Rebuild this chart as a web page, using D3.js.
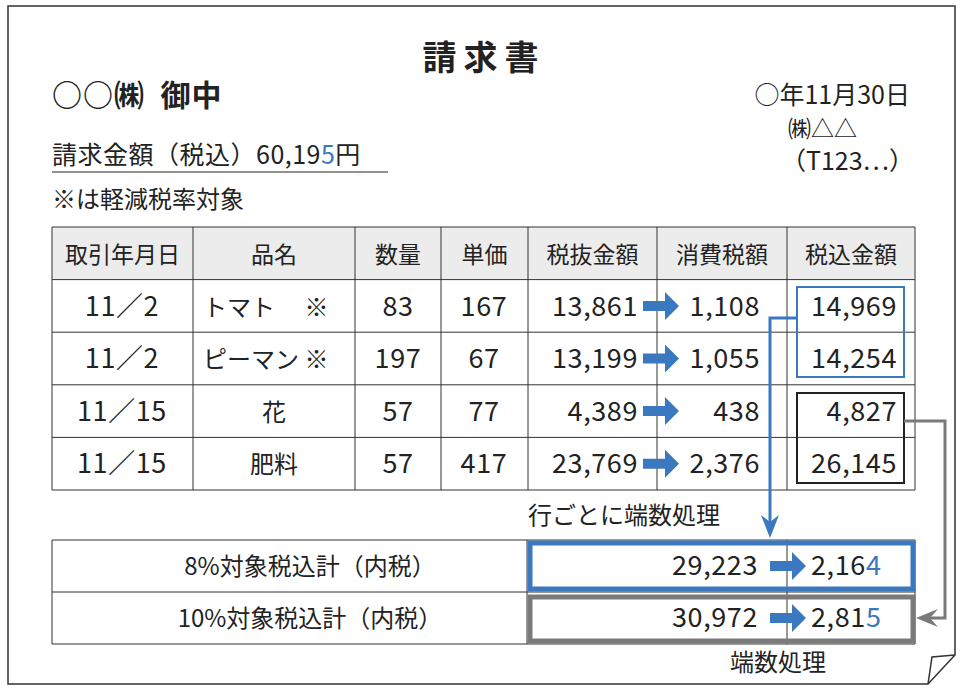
<!DOCTYPE html>
<html><head><meta charset="utf-8">
<script src="https://cdn.jsdelivr.net/npm/d3@7"></script>
<style>body{margin:0;background:#fff}text{font-family:"Noto Sans CJK JP",sans-serif;fill:#222}.num{font-size:27px;letter-spacing:0.6px}</style>
</head><body>
<script>
// invoice rows
const headers = ["取引年月日", "品名", "数量", "単価", "税抜金額", "消費税額", "税込金額"];
const dates = ["11／2", "11／2", "11／15", "11／15"];
const items = ["トマト　 ※", "ピーマン ※", "花", "肥料"];
const qty = [83, 197, 57, 57];
const price = [167, 67, 77, 417];
const net = [13861, 13199, 4389, 23769];
const tax = [1108, 1055, 438, 2376];
const gross = [14969, 14254, 4827, 26145];
const sumLabels = ["8%対象税込計（内税）", "10%対象税込計（内税）"];
const sumGross = [29223, 30972];
const sumTax = [2164, 2815];

const blue = "#3a78c0", gray = "#7a7a7a";
const fmt = d3.format(",");
const svg = d3.select("body").append("svg").attr("width", 965).attr("height", 690);

// page with folded corner
svg.append("path").attr("d", "M8,6H955V655L928,684H8Z").attr("fill", "none").attr("stroke", "#333").attr("stroke-width", 1.5);
svg.append("path").attr("d", "M928,684L932,657L955,655").attr("fill", "none").attr("stroke", "#333").attr("stroke-width", 1.5);

svg.append("text").attr("x", 484).attr("y", 70).attr("text-anchor", "middle").attr("font-size", 34).attr("font-weight", 700).attr("letter-spacing", 7).text("請求書");
svg.append("text").attr("x", 52).attr("y", 106).attr("font-size", 30).attr("font-weight", 700).attr("letter-spacing", 1).attr("xml:space", "preserve").text("○○㈱  御中");
svg.append("text").attr("x", 910).attr("y", 104).attr("text-anchor", "end").attr("font-size", 25).text("○年11月30日");
svg.append("text").attr("x", 788).attr("y", 137).attr("font-size", 23).text("㈱△△");
svg.append("text").attr("x", 914).attr("y", 170).attr("text-anchor", "end").attr("font-size", 25).text("（T123…）");
const tot = svg.append("text").attr("x", 52).attr("y", 164).attr("font-size", 25).attr("letter-spacing", 0.5);
tot.append("tspan").text("請求金額（税込）60,19");
tot.append("tspan").style("fill", blue).text("5");
tot.append("tspan").text("円");
svg.append("line").attr("x1", 52).attr("x2", 388).attr("y1", 172).attr("y2", 172).attr("stroke", "#222");
svg.append("text").attr("x", 52).attr("y", 208).attr("font-size", 24).text("※は軽減税率対象");

// main table
const colEdges = [52, 193, 355, 441, 528, 657, 787, 915];
const y = d3.scaleBand().domain(d3.range(5)).range([227, 490]);
const g = svg.append("g");
g.append("rect").attr("x", 52).attr("y", 227).attr("width", 863).attr("height", y.bandwidth()).attr("fill", "#ececec");
y.domain().concat([5]).forEach(i => {
  const yy = i < 5 ? y(i) : 490;
  g.append("line").attr("x1", 52).attr("x2", 915).attr("y1", yy).attr("y2", yy).attr("stroke", "#333");
});
colEdges.forEach(x => g.append("line").attr("x1", x).attr("x2", x).attr("y1", 227).attr("y2", 490).attr("stroke", "#333"));
headers.forEach((h, j) => g.append("text").attr("x", (colEdges[j] + colEdges[j + 1]) / 2).attr("y", y(0) + 36).attr("text-anchor", "middle").attr("font-size", 23).text(h));

const rows = d3.range(4).map(i => ({date: dates[i], item: items[i], qty: qty[i], price: price[i], net: net[i], tax: tax[i], gross: gross[i]}));
const rg = g.selectAll(".row").data(rows).enter().append("g").attr("transform", (d, i) => `translate(0,${y(i + 1) + 36})`);
rg.append("text").attr("x", 122).attr("text-anchor", "middle").attr("class", "num").text(d => d.date);
rg.append("text").attr("x", (d, i) => i < 2 ? 203 : 274).attr("text-anchor", (d, i) => i < 2 ? "start" : "middle").attr("font-size", 24).attr("xml:space", "preserve").text(d => d.item);
rg.append("text").attr("x", 398).attr("text-anchor", "middle").attr("class", "num").text(d => d.qty);
rg.append("text").attr("x", 484).attr("text-anchor", "middle").attr("class", "num").text(d => d.price);
rg.append("text").attr("x", 638).attr("text-anchor", "end").attr("class", "num").text(d => fmt(d.net));
rg.append("text").attr("x", 760).attr("text-anchor", "end").attr("class", "num").text(d => fmt(d.tax));
rg.append("text").attr("x", 897).attr("text-anchor", "end").attr("class", "num").text(d => fmt(d.gross));

function arrow(x, yc) {
  svg.append("path").attr("d", `M${x},${yc - 5}h22v-9l14,14l-14,14v-9h-22Z`).attr("fill", blue);
}
rows.forEach((d, i) => arrow(643, y(i + 1) + y.bandwidth() / 2));

// rounding boxes
svg.append("rect").attr("x", 797).attr("y", 287).attr("width", 107).attr("height", 90).attr("fill", "none").attr("stroke", blue).attr("stroke-width", 2);
svg.append("rect").attr("x", 797).attr("y", 393).attr("width", 107).attr("height", 90).attr("fill", "none").attr("stroke", "#222").attr("stroke-width", 2);

// summary table
const ys = d3.scaleBand().domain([0, 1]).range([540, 644]);
[540, 592, 644].forEach(yy => svg.append("line").attr("x1", 52).attr("x2", 915).attr("y1", yy).attr("y2", yy).attr("stroke", "#333"));
[52, 527, 787, 915].forEach(x => svg.append("line").attr("x1", x).attr("x2", x).attr("y1", 540).attr("y2", 644).attr("stroke", "#333"));
svg.append("rect").attr("x", 530).attr("y", 543).attr("width", 383).attr("height", 46).attr("fill", "none").attr("stroke", blue).attr("stroke-width", 5);
svg.append("rect").attr("x", 530).attr("y", 597).attr("width", 383).attr("height", 44).attr("fill", "none").attr("stroke", gray).attr("stroke-width", 5);
sumLabels.forEach((l, i) => {
  const yy = ys(i) + 35;
  svg.append("text").attr("x", 310).attr("y", yy).attr("text-anchor", "middle").attr("font-size", 24).text(l);
  svg.append("text").attr("x", 758).attr("y", yy).attr("text-anchor", "end").attr("class", "num").text(fmt(sumGross[i]));
  arrow(770, ys(i) + ys.bandwidth() / 2);
  const s = String(fmt(sumTax[i]));
  const t = svg.append("text").attr("x", 811).attr("y", yy).attr("class", "num");
  t.append("tspan").text(s.slice(0, -1));
  t.append("tspan").style("fill", blue).text(s.slice(-1));
});

// connectors
svg.append("path").attr("d", "M797,318H770V522").attr("fill", "none").attr("stroke", blue).attr("stroke-width", 3);
svg.append("path").attr("d", "M761,515L770,538L779,515L770,522Z").attr("fill", blue);
svg.append("path").attr("d", "M904,421H945V618H924").attr("fill", "none").attr("stroke", gray).attr("stroke-width", 3);
svg.append("path").attr("d", "M938,609L916,618L938,627L930,618Z").attr("fill", gray);

svg.append("text").attr("x", 528).attr("y", 524).attr("font-size", 24).text("行ごとに端数処理");
svg.append("text").attr("x", 730).attr("y", 671).attr("font-size", 24).text("端数処理");
</script>
</body></html>
